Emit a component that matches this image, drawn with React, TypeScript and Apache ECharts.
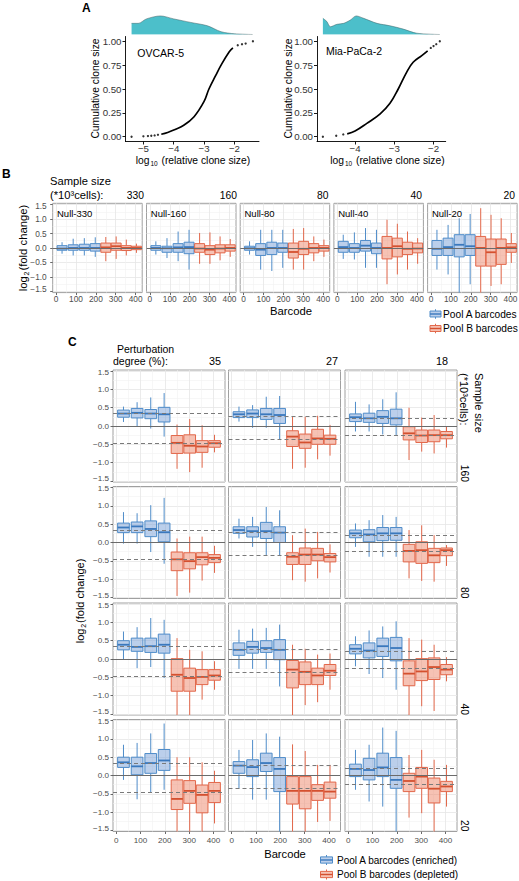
import React, { useEffect, useRef } from 'react';
import * as echarts from 'echarts';

const FF = '"Liberation Sans", Arial, Helvetica, sans-serif';

// ---------------- Panel A data ----------------
const OVCAR_LINE_X = [-4.41, -4.2, -4.0, -3.67, -3.33, -3.0, -2.84, -2.62, -2.44, -2.17, -2.05];
const OVCAR_LINE_Y = [0.026, 0.045, 0.07, 0.12, 0.21, 0.37, 0.5, 0.64, 0.75, 0.89, 0.93];
const OVCAR_TAIL_X = [-5.39, -5.0, -4.85, -4.74, -4.63, -4.52, -1.89, -1.75, -1.63, -1.39];
const OVCAR_TAIL_Y = [0.0, 0.004, 0.007, 0.01, 0.014, 0.02, 0.958, 0.969, 0.976, 1.0];
const OVCAR_DENS_X = [-5.39, -5.17, -4.9, -4.44, -4.0, -3.44, -2.89, -2.44, -2.0, -1.4];
const OVCAR_DENS_Y = [0.6, 0.6, 0.84, 1.0, 0.84, 0.65, 0.47, 0.15, 0.04, 0.0];

const MIA_LINE_X = [-4.2, -4.0, -3.7, -3.36, -3.11, -2.9, -2.68, -2.52, -2.3, -2.15];
const MIA_LINE_Y = [0.03, 0.06, 0.14, 0.24, 0.35, 0.5, 0.68, 0.78, 0.85, 0.9];
const MIA_TAIL_X = [-4.82, -4.48, -4.3, -2.07, -2.0, -1.93, -1.84];
const MIA_TAIL_Y = [0.0, 0.01, 0.024, 0.93, 0.95, 0.97, 1.0];
const MIA_DENS_X = [-4.82, -4.72, -4.63, -4.46, -4.29, -4.12, -3.97, -3.78, -3.44, -3.11, -2.77, -2.43, -1.84];
const MIA_DENS_Y = [0.87, 0.7, 0.42, 0.55, 0.6, 0.78, 1.0, 0.87, 0.6, 0.47, 0.29, 0.07, 0.0];

const A_X_TICKS_L = [-5, -4, -3, -2];
const A_X_TICKS_R = [-4, -3, -2];
const A_Y_TICKS = [0, 0.25, 0.5, 0.75, 1];

// ---------------- Box data: [min, Q1, median, Q3, max] ----------------
const BOX_CENTERS = [30, 86, 142, 197, 250, 302, 353, 404];
const X_MAJOR = [0, 100, 200, 300, 400];
const X_MINOR = [50, 150, 250, 350];
const Y_MAJOR = [-1.5, -1, -0.5, 0, 0.5, 1, 1.5];
const Y_MINOR = [-1.25, -0.75, -0.25, 0.25, 0.75, 1.25];

// Panel B (null experiments)
const B_SIZES = ['330', '160', '80', '40', '20'];
const NULL_330 = [
  [-0.2, -0.08, -0.02, 0.08, 0.2], [-0.26, -0.08, 0.0, 0.11, 0.32], [-0.26, -0.08, 0.0, 0.13, 0.34], [-0.31, -0.11, 0.0, 0.15, 0.37],
  [-0.46, -0.15, 0.02, 0.17, 0.38], [-0.38, -0.08, 0.06, 0.17, 0.4], [-0.26, -0.09, 0.0, 0.08, 0.29], [-0.17, -0.06, 0.0, 0.06, 0.15],
];
const NULL_160 = [
  [-0.23, -0.08, 0.0, 0.08, 0.23], [-0.35, -0.15, -0.01, 0.06, 0.34], [-0.46, -0.15, 0.02, 0.15, 0.57], [-0.75, -0.2, 0.03, 0.2, 0.63],
  [-0.55, -0.15, -0.02, 0.15, 0.52], [-0.55, -0.23, -0.06, 0.08, 0.54], [-0.43, -0.17, -0.02, 0.11, 0.4], [-0.31, -0.11, 0.0, 0.11, 0.31],
];
const NULL_80 = [
  [-0.23, -0.08, -0.01, 0.06, 0.23], [-0.75, -0.26, -0.06, 0.15, 0.63], [-0.8, -0.23, 0.0, 0.2, 0.63], [-0.69, -0.15, 0.0, 0.17, 0.63],
  [-0.75, -0.35, -0.14, 0.17, 0.66], [-0.75, -0.23, -0.03, 0.23, 0.69], [-0.46, -0.17, 0.0, 0.15, 0.4], [-0.31, -0.11, 0.0, 0.08, 0.29],
];
const NULL_40 = [
  [-0.38, -0.15, 0.03, 0.23, 0.46], [-0.4, -0.15, 0.0, 0.15, 0.54], [-0.69, -0.11, 0.08, 0.26, 0.69], [-0.69, -0.2, 0.0, 0.17, 0.63],
  [-1.26, -0.38, 0.0, 0.4, 0.98], [-0.92, -0.31, 0.06, 0.34, 0.84], [-0.75, -0.23, -0.03, 0.2, 0.57], [-0.55, -0.17, -0.02, 0.17, 0.34],
];
const NULL_20 = [
  [-0.75, -0.26, -0.03, 0.26, 0.63], [-0.92, -0.26, 0.03, 0.34, 0.8], [-1.6, -0.31, 0.11, 0.46, 1.03], [-1.26, -0.26, 0.06, 0.46, 1.18],
  [-1.6, -0.63, 0.0, 0.4, 1.38], [-1.32, -0.63, -0.15, 0.31, 1.15], [-1.26, -0.57, 0.0, 0.31, 1.03], [-0.52, -0.15, 0.02, 0.15, 0.52],
];
const B_PANELS = [NULL_330, NULL_160, NULL_80, NULL_40, NULL_20];

// Panel C (perturbation degree x sample size)
const C_DEGREES = ['35', '27', '18'];
const C_SIZES = ['160', '80', '40', '20'];
const C_EXPECTED_A = [0.34, 0.27, 0.21];
const C_EXPECTED_B = [-0.46, -0.35, -0.25];

const C35_160 = [
  [0.11, 0.24, 0.34, 0.435, 0.53], [0.0, 0.22, 0.36, 0.48, 0.65], [-0.07, 0.2, 0.34, 0.45, 0.78], [-0.29, 0.11, 0.32, 0.51, 0.9],
  [-1.17, -0.75, -0.46, -0.26, 0.04], [-1.26, -0.74, -0.54, -0.24, 0.19], [-1.14, -0.72, -0.56, -0.4, 0.02], [-0.72, -0.58, -0.47, -0.4, -0.24],
];
const C27_160 = [
  [0.12, 0.23, 0.32, 0.39, 0.53], [-0.05, 0.23, 0.34, 0.44, 0.57], [-0.05, 0.18, 0.32, 0.48, 0.8], [-0.38, 0.07, 0.3, 0.48, 0.82],
  [-1.17, -0.56, -0.29, -0.13, 0.25], [-1.14, -0.61, -0.45, -0.22, 0.25], [-0.91, -0.5, -0.34, -0.09, 0.28], [-0.81, -0.5, -0.35, -0.25, 0.03],
];
const C18_160 = [
  [-0.15, 0.12, 0.24, 0.33, 0.66], [-0.15, 0.1, 0.21, 0.35, 0.59], [-0.23, 0.07, 0.25, 0.42, 0.73], [-0.25, 0.03, 0.21, 0.46, 0.92],
  [-0.93, -0.38, -0.2, -0.02, 0.5], [-0.7, -0.45, -0.26, -0.11, 0.23], [-0.75, -0.43, -0.25, -0.11, 0.3], [-0.59, -0.35, -0.25, -0.15, 0.0],
];
const C35_80 = [
  [-0.03, 0.27, 0.41, 0.53, 0.83], [-0.03, 0.27, 0.44, 0.56, 0.8], [-0.26, 0.16, 0.37, 0.59, 1.02], [-0.58, 0.02, 0.28, 0.53, 1.22],
  [-1.46, -0.77, -0.46, -0.26, 0.11], [-1.37, -0.72, -0.51, -0.28, 0.16], [-1.04, -0.61, -0.4, -0.28, 0.16], [-0.83, -0.55, -0.42, -0.33, -0.09],
];
const C27_80 = [
  [0.11, 0.25, 0.34, 0.43, 0.65], [-0.12, 0.15, 0.31, 0.43, 0.7], [-0.36, 0.11, 0.31, 0.55, 0.97], [-0.36, 0.0, 0.27, 0.43, 0.88],
  [-1.03, -0.6, -0.39, -0.28, 0.2], [-1.07, -0.6, -0.33, -0.15, 0.38], [-0.98, -0.5, -0.33, -0.16, 0.29], [-0.82, -0.53, -0.4, -0.3, -0.05],
];
const C18_80 = [
  [-0.12, 0.13, 0.25, 0.34, 0.52], [-0.39, 0.02, 0.22, 0.35, 0.61], [-0.39, 0.05, 0.25, 0.41, 0.75], [-0.39, 0.06, 0.25, 0.41, 0.7],
  [-0.98, -0.53, -0.23, -0.05, 0.34], [-1.05, -0.57, -0.21, 0.02, 0.47], [-1.07, -0.55, -0.35, -0.16, 0.2], [-0.64, -0.36, -0.21, -0.15, -0.07],
];
const C35_40 = [
  [-0.02, 0.25, 0.39, 0.5, 0.75], [-0.25, 0.21, 0.33, 0.57, 0.87], [-0.22, 0.18, 0.35, 0.57, 1.12], [-0.52, 0.16, 0.39, 0.68, 1.07],
  [-1.6, -0.88, -0.43, 0.01, 0.57], [-1.6, -0.88, -0.52, -0.25, 0.25], [-1.11, -0.7, -0.49, -0.29, 0.21], [-0.84, -0.58, -0.45, -0.29, -0.06],
];
const C27_40 = [
  [-0.27, 0.1, 0.25, 0.44, 0.8], [-0.27, 0.16, 0.33, 0.48, 0.83], [-0.27, 0.18, 0.3, 0.5, 0.85], [-0.75, -0.02, 0.25, 0.53, 0.94],
  [-1.6, -0.79, -0.29, -0.04, 0.39], [-1.26, -0.7, -0.35, -0.08, 0.28], [-1.18, -0.7, -0.45, -0.25, 0.12], [-0.84, -0.45, -0.32, -0.15, 0.15],
];
const C18_40 = [
  [-0.2, 0.14, 0.28, 0.39, 0.62], [-0.41, 0.03, 0.23, 0.44, 0.78], [-0.52, 0.07, 0.35, 0.57, 0.89], [-0.84, -0.05, 0.3, 0.59, 1.03],
  [-1.6, -0.73, -0.4, -0.05, 0.57], [-1.29, -0.59, -0.34, 0.01, 0.53], [-1.42, -0.56, -0.22, 0.03, 0.39], [-0.61, -0.43, -0.29, -0.15, 0.05],
];
const C35_20 = [
  [-0.12, 0.22, 0.36, 0.5, 0.84], [-0.65, 0.02, 0.25, 0.5, 0.89], [-0.47, 0.06, 0.34, 0.6, 1.15], [-0.39, 0.14, 0.41, 0.71, 1.42],
  [-1.6, -0.93, -0.64, -0.12, 0.5], [-1.6, -0.76, -0.42, -0.14, 0.5], [-1.6, -1.02, -0.53, -0.26, 0.36], [-1.31, -0.74, -0.42, -0.19, 0.13],
];
const C27_20 = [
  [-0.35, 0.06, 0.27, 0.38, 0.7], [-0.66, -0.03, 0.23, 0.43, 0.97], [-0.66, 0.11, 0.34, 0.61, 1.15], [-1.6, -0.44, 0.18, 0.49, 1.06],
  [-1.6, -0.78, -0.42, -0.03, 0.85], [-1.6, -0.91, -0.42, -0.03, 0.67], [-1.27, -0.68, -0.42, -0.25, 0.29], [-1.24, -0.62, -0.44, -0.18, 0.29],
];
const C18_20 = [
  [-0.39, -0.03, 0.18, 0.31, 0.7], [-0.71, -0.12, 0.15, 0.47, 0.84], [-0.85, -0.03, 0.22, 0.61, 1.31], [-1.6, -0.35, -0.12, 0.49, 1.22],
  [-1.15, -0.44, -0.15, 0.06, 0.56], [-1.03, -0.35, -0.03, 0.22, 0.7], [-1.6, -0.75, -0.36, -0.07, 0.43], [-0.85, -0.44, -0.3, -0.16, 0.29],
];
const C_PANELS = [
  [C35_160, C27_160, C18_160],
  [C35_80, C27_80, C18_80],
  [C35_40, C27_40, C18_40],
  [C35_20, C27_20, C18_20],
];

// ---------------- Layout / style constants ----------------
const BLUE_STROKE = '#4f8cc9';
const BLUE_FILL = 'rgba(120,160,215,0.5)';
const BLUE_MED = '#3a78bd';
const RED_STROKE = '#e2674a';
const RED_FILL = 'rgba(236,128,98,0.48)';
const RED_MED = '#d4502f';
const TEAL = '#4cbfca';

const B_LEFTS = [52.7, 146.5, 240.2, 333.9, 427.6];
const B_TOP = 203.3, B_W = 89.5, B_H = 89.3;
const B_XR = [-17, 433];
const B_YR = [-1.55, 1.55];

const C_LEFTS = [113, 228.5, 345];
const C_TOPS = [370, 486.5, 603, 719.5];
const C_W = 112, C_H = 112;
const C_XR = [-13, 447];
const C_YR = [-1.53, 1.53];

const fmt = (v: number, d: number) => {
  const s = (Math.abs(v) < 1e-9 ? 0 : v).toFixed(d);
  return s.replace('-', '\u2212');
};

let measureCtx: CanvasRenderingContext2D | null = null;
function measure(text: string, size: number) {
  if (!measureCtx) measureCtx = document.createElement('canvas').getContext('2d');
  if (!measureCtx) return text.length * size * 0.5;
  measureCtx.font = `${size}px "Liberation Sans", Arial, sans-serif`;
  return measureCtx.measureText(text).width;
}

function boxRender(w: number, stroke: string, fill: string, med: string) {
  return (params: any, api: any) => {
    const cs = params.coordSys;
    const top = cs.y, bot = cs.y + cs.height;
    const cl = (v: number) => Math.max(top, Math.min(bot, v));
    const x = api.value(0);
    const c = api.coord([x, api.value(3)]);
    const l = api.coord([x - w / 2, api.value(4)]);
    const r = api.coord([x + w / 2, api.value(2)]);
    const yMin = cl(api.coord([x, api.value(1)])[1]);
    const yMax = cl(api.coord([x, api.value(5)])[1]);
    const yQ3 = cl(l[1]), yQ1 = cl(r[1]);
    return {
      type: 'group',
      children: [
        { type: 'line', shape: { x1: c[0], y1: yMax, x2: c[0], y2: yQ3 }, style: { stroke, lineWidth: 1 } },
        { type: 'line', shape: { x1: c[0], y1: yQ1, x2: c[0], y2: yMin }, style: { stroke, lineWidth: 1 } },
        { type: 'rect', shape: { x: l[0], y: yQ3, width: r[0] - l[0], height: yQ1 - yQ3 }, style: { fill, stroke, lineWidth: 1 } },
        { type: 'line', shape: { x1: l[0], y1: c[1], x2: r[0], y2: c[1] }, style: { stroke: med, lineWidth: 1.8 } },
      ],
    };
  };
}

function txt(x: number, y: number, text: string, size: number, o: any = {}) {
  return {
    type: 'text', x, y, rotation: o.rot || 0, silent: true, z: 20,
    style: {
      text, fontSize: size, fontFamily: FF, fill: o.color || '#000',
      align: o.align || 'left', verticalAlign: 'middle', fontWeight: o.bold ? 'bold' : 'normal',
    },
  };
}

// text with a subscript, built from separate pieces; centered at (cx, cy)
function subText(cx: number, cy: number, pre: string, sub: string, post: string, size: number, subSize: number, vertical: boolean) {
  const gap = 0.9;
  const w1 = measure(pre, size), w2 = measure(sub, subSize), w3 = measure(post, size);
  const total = w1 + w2 + w3 + 2 * gap;
  const parts = [
    { t: pre, s: size, off: 0, dy: 0 },
    { t: sub, s: subSize, off: w1 + gap, dy: size * 0.33 },
    { t: post, s: size, off: w1 + w2 + 2 * gap, dy: 0 },
  ];
  return parts.map((p) => {
    if (!vertical) return txt(cx - total / 2 + p.off, cy + p.dy, p.t, p.s);
    return txt(cx + p.dy, cy + total / 2 - p.off, p.t, p.s, { rot: Math.PI / 2 });
  });
}

function legendIcon(x: number, y: number, w: number, h: number, stroke: string, fill: string, med: string) {
  const cx = x + w / 2;
  return {
    type: 'group', silent: true, z: 20,
    children: [
      { type: 'line', shape: { x1: cx, y1: y - h / 2, x2: cx, y2: y + h / 2 }, style: { stroke, lineWidth: 1 } },
      { type: 'rect', shape: { x, y: y - h / 3.2, width: w, height: h / 1.6 }, style: { fill: '#fff', stroke: 'none' } },
      { type: 'rect', shape: { x, y: y - h / 3.2, width: w, height: h / 1.6 }, style: { fill, stroke, lineWidth: 1 } },
      { type: 'line', shape: { x1: x, y1: y, x2: x + w, y2: y }, style: { stroke: med, lineWidth: 1.4 } },
    ],
  };
}

function buildOption() {
  const grid: any[] = [], xAxis: any[] = [], yAxis: any[] = [], series: any[] = [], graphic: any[] = [];
  const addGrid = (g: any) => {
    grid.push({ show: false, containLabel: false, outerBoundsMode: 'none', ...g });
    return grid.length - 1;
  };

  // ----- Panel A -----
  const aLabel = { color: '#333', fontSize: 9.7, fontFamily: FF };
  const panelA = (left: number, width: number, xr: number[], xTicks: number[],
    lx: number[], ly: number[], tx: number[], ty: number[], dx: number[], dy: number[]) => {
    const gi = addGrid({ left, top: 36.5, width, height: 105 });
    const xi = xAxis.length;
    xAxis.push({
      type: 'value', gridIndex: gi, min: xr[0], max: xr[1],
      axisLine: { show: true, onZero: false, lineStyle: { color: '#000', width: 0.9 } },
      axisTick: { show: true, length: 3, customValues: xTicks, lineStyle: { color: '#000', width: 0.9 } },
      axisLabel: { show: true, customValues: xTicks, margin: 1.5, formatter: (v: number) => fmt(v, 0), ...aLabel },
      splitLine: { show: false },
    });
    const yi = yAxis.length;
    yAxis.push({
      type: 'value', gridIndex: gi, min: -0.05, max: 1.05,
      axisLine: { show: true, onZero: false, lineStyle: { color: '#000', width: 0.9 } },
      axisTick: { show: true, length: 3, customValues: A_Y_TICKS, lineStyle: { color: '#000', width: 0.9 } },
      axisLabel: { show: true, customValues: A_Y_TICKS, margin: 4, formatter: (v: number) => fmt(v, 2), ...aLabel },
      splitLine: { show: false },
    });
    series.push({
      type: 'line', xAxisIndex: xi, yAxisIndex: yi, data: lx.map((x, i) => [x, ly[i]]),
      smooth: 0.4, symbol: 'none', lineStyle: { color: '#000', width: 1.7 }, silent: true,
    });
    series.push({
      type: 'scatter', xAxisIndex: xi, yAxisIndex: yi, data: tx.map((x, i) => [x, ty[i]]),
      symbolSize: 2.3, itemStyle: { color: '#000' }, silent: true,
    });
    const gd = addGrid({ left, top: 15, width, height: 19.5 });
    const xd = xAxis.length;
    xAxis.push({ type: 'value', gridIndex: gd, min: xr[0], max: xr[1], show: false });
    const yd = yAxis.length;
    yAxis.push({ type: 'value', gridIndex: gd, min: 0, max: 1.05, show: false });
    series.push({
      type: 'line', xAxisIndex: xd, yAxisIndex: yd, data: dx.map((x, i) => [x, dy[i]]),
      smooth: 0.3, symbol: 'none', lineStyle: { color: '#3c5f63', width: 0.5 },
      areaStyle: { color: TEAL, opacity: 1 }, silent: true,
    });
  };
  panelA(125.5, 133.5, [-5.59, -1.19], A_X_TICKS_L, OVCAR_LINE_X, OVCAR_LINE_Y, OVCAR_TAIL_X, OVCAR_TAIL_Y, OVCAR_DENS_X, OVCAR_DENS_Y);
  panelA(317, 128.7, [-4.97, -1.69], A_X_TICKS_R, MIA_LINE_X, MIA_LINE_Y, MIA_TAIL_X, MIA_TAIL_Y, MIA_DENS_X, MIA_DENS_Y);

  // ----- Box panels -----
  const boxPanel = (left: number, top: number, width: number, height: number, xr: number[], yr: number[],
    showX: boolean, showY: boolean, stats: number[][], dashed: number[], tickFont: number,
    xMargin: number, yMargin: number, boxW: number) => {
    const gi = addGrid({ left, top, width, height, show: true, borderColor: '#a0a0a0', borderWidth: 1, backgroundColor: '#fff' });
    const tl = { fontSize: tickFont, color: '#4d4d4d', fontFamily: FF };
    const xi = xAxis.length;
    xAxis.push({
      type: 'value', gridIndex: gi, min: xr[0], max: xr[1],
      axisLine: { show: false, onZero: false },
      axisTick: { show: showX, customValues: X_MAJOR, length: 2.5, lineStyle: { color: '#444', width: 0.8 } },
      axisLabel: { show: showX, customValues: X_MAJOR, margin: xMargin, ...tl },
      splitLine: { show: true, lineStyle: { color: '#e6e6e6', width: 0.8 } },
    });
    xAxis.push({
      type: 'value', gridIndex: gi, min: xr[0], max: xr[1],
      axisLine: { show: false, onZero: false },
      axisTick: { show: false, customValues: X_MINOR },
      axisLabel: { show: false },
      splitLine: { show: true, lineStyle: { color: '#f1f1f1', width: 0.6 } },
    });
    const yi = yAxis.length;
    yAxis.push({
      type: 'value', gridIndex: gi, min: yr[0], max: yr[1],
      axisLine: { show: false, onZero: false },
      axisTick: { show: showY, customValues: Y_MAJOR, length: 2.5, lineStyle: { color: '#444', width: 0.8 } },
      axisLabel: {
        show: showY, customValues: Y_MAJOR, margin: yMargin, ...tl,
        formatter: (v: number) => (v <= -1.49 ? '{lo|' + fmt(v, 1) + '}' : v >= 1.49 ? '{hi|' + fmt(v, 1) + '}' : fmt(v, 1)),
        rich: {
          lo: { ...tl, padding: [0, 0, 4, 0] },
          hi: { ...tl, padding: [2, 0, 0, 0] },
        },
      },
      splitLine: { show: true, lineStyle: { color: '#e6e6e6', width: 0.8 } },
    });
    yAxis.push({
      type: 'value', gridIndex: gi, min: yr[0], max: yr[1],
      axisLine: { show: false, onZero: false },
      axisTick: { show: false, customValues: Y_MINOR },
      axisLabel: { show: false },
      splitLine: { show: true, lineStyle: { color: '#f1f1f1', width: 0.6 } },
    });
    series.push({
      type: 'line', xAxisIndex: xi, yAxisIndex: yi, data: [], symbol: 'none', silent: true, z: 1,
      markLine: {
        silent: true, symbol: ['none', 'none'], label: { show: false }, animation: false,
        data: [
          { yAxis: 0, lineStyle: { color: '#6b6b6b', width: 1.1, type: 'solid' } },
          ...dashed.map((v) => ({ yAxis: v, lineStyle: { color: '#7a7a7a', width: 1, type: [4, 3] } })),
        ],
      },
    });
    series.push({
      type: 'custom', xAxisIndex: xi, yAxisIndex: yi, z: 3, silent: true,
      renderItem: boxRender(boxW, BLUE_STROKE, BLUE_FILL, BLUE_MED),
      data: stats.slice(0, 4).map((s, i) => [BOX_CENTERS[i], ...s]),
    });
    series.push({
      type: 'custom', xAxisIndex: xi, yAxisIndex: yi, z: 3, silent: true,
      renderItem: boxRender(boxW, RED_STROKE, RED_FILL, RED_MED),
      data: stats.slice(4, 8).map((s, i) => [BOX_CENTERS[i + 4], ...s]),
    });
  };

  B_PANELS.forEach((stats, k) => {
    boxPanel(B_LEFTS[k], B_TOP, B_W, B_H, B_XR, B_YR, true, k === 0, stats, [], 8.3, 2.5, 6, 50);
  });
  C_PANELS.forEach((row, r) => {
    row.forEach((stats, c) => {
      boxPanel(C_LEFTS[c], C_TOPS[r], C_W, C_H, C_XR, C_YR, r === 3, c === 0, stats,
        [C_EXPECTED_A[c], C_EXPECTED_B[c]], 8.1, 4.5, 4, 48);
    });
  });

  // ----- Texts -----
  // A
  graphic.push(txt(82, 8, 'A', 12, { bold: true }));
  graphic.push(txt(137.3, 52.5, 'OVCAR-5', 10.5));
  graphic.push(txt(326, 51, 'Mia-PaCa-2', 10.5));
  graphic.push(txt(95, 88.5, 'Cumulative clone size', 10.3, { rot: Math.PI / 2, align: 'center' }));
  graphic.push(txt(288, 88.5, 'Cumulative clone size', 10.3, { rot: Math.PI / 2, align: 'center' }));
  graphic.push(...subText(193, 160.5, 'log', '10', ' (relative clone size)', 10.3, 6.5, false));
  graphic.push(...subText(387.5, 160.5, 'log', '10', ' (relative clone size)', 10.3, 6.5, false));

  // B
  graphic.push(txt(2, 174, 'B', 12, { bold: true }));
  graphic.push(txt(50, 181, 'Sample size', 11.2));
  graphic.push(txt(50, 195, '(*10\u00b3cells):', 11.2));
  const bNumRight = [144, 237, 328.5, 422, 515];
  B_SIZES.forEach((s, k) => {
    graphic.push(txt(bNumRight[k], 195, s, 10.3, { align: 'right' }));
    graphic.push(txt(B_LEFTS[k] + 4.3, 213.5, 'Null-' + s, 9.5));
  });
  graphic.push(...subText(23, 248, 'log', '2', '(fold change)', 11.3, 7, true));
  graphic.push(txt(291, 311, 'Barcode', 11.3, { align: 'center' }));
  graphic.push(legendIcon(430, 314, 11, 9.5, BLUE_STROKE, BLUE_FILL, BLUE_MED));
  graphic.push(legendIcon(430, 328.5, 11, 9.5, RED_STROKE, RED_FILL, RED_MED));
  graphic.push(txt(443, 314, 'Pool A barcodes', 10.2));
  graphic.push(txt(443, 328.5, 'Pool B barcodes', 10.2));

  // C
  graphic.push(txt(68, 342, 'C', 12, { bold: true }));
  graphic.push(txt(117, 348.5, 'Perturbation', 10.5));
  graphic.push(txt(113, 361, 'degree (%):', 10.5));
  const cNumRight = [221, 338, 448];
  C_DEGREES.forEach((d, c) => graphic.push(txt(cNumRight[c], 361, d, 10.8, { align: 'right' })));
  graphic.push(txt(478.5, 373, 'Sample size', 11, { rot: -Math.PI / 2 }));
  graphic.push(txt(464, 373, '(*10\u00b3cells):', 11, { rot: -Math.PI / 2 }));
  C_SIZES.forEach((s, r) => graphic.push(txt(464, C_TOPS[r] + C_H, s, 10.3, { rot: -Math.PI / 2, align: 'right' })));
  graphic.push(...subText(80, 601, 'log', '2', '(fold change)', 11, 7, true));
  graphic.push(txt(285, 853.5, 'Barcode', 11.2, { align: 'center' }));
  graphic.push(legendIcon(320.5, 860, 12, 10, BLUE_STROKE, BLUE_FILL, BLUE_MED));
  graphic.push(legendIcon(320.5, 874.5, 12, 10, RED_STROKE, RED_FILL, RED_MED));
  graphic.push(txt(337, 860, 'Pool A barcodes (enriched)', 10));
  graphic.push(txt(337, 874.5, 'Pool B barcodes (depleted)', 10));

  return {
    animation: false,
    backgroundColor: '#fff',
    textStyle: { fontFamily: FF },
    grid, xAxis, yAxis, series, graphic,
  };
}

export default function App() {
  const ref = useRef<HTMLDivElement>(null);
  useEffect(() => {
    document.body.style.margin = '0';
    const chart = echarts.init(ref.current!, null, { renderer: 'svg' });
    chart.setOption(buildOption() as any);
    return () => chart.dispose();
  }, []);
  return <div ref={ref} style={{ width: 519, height: 881 }} />;
}
